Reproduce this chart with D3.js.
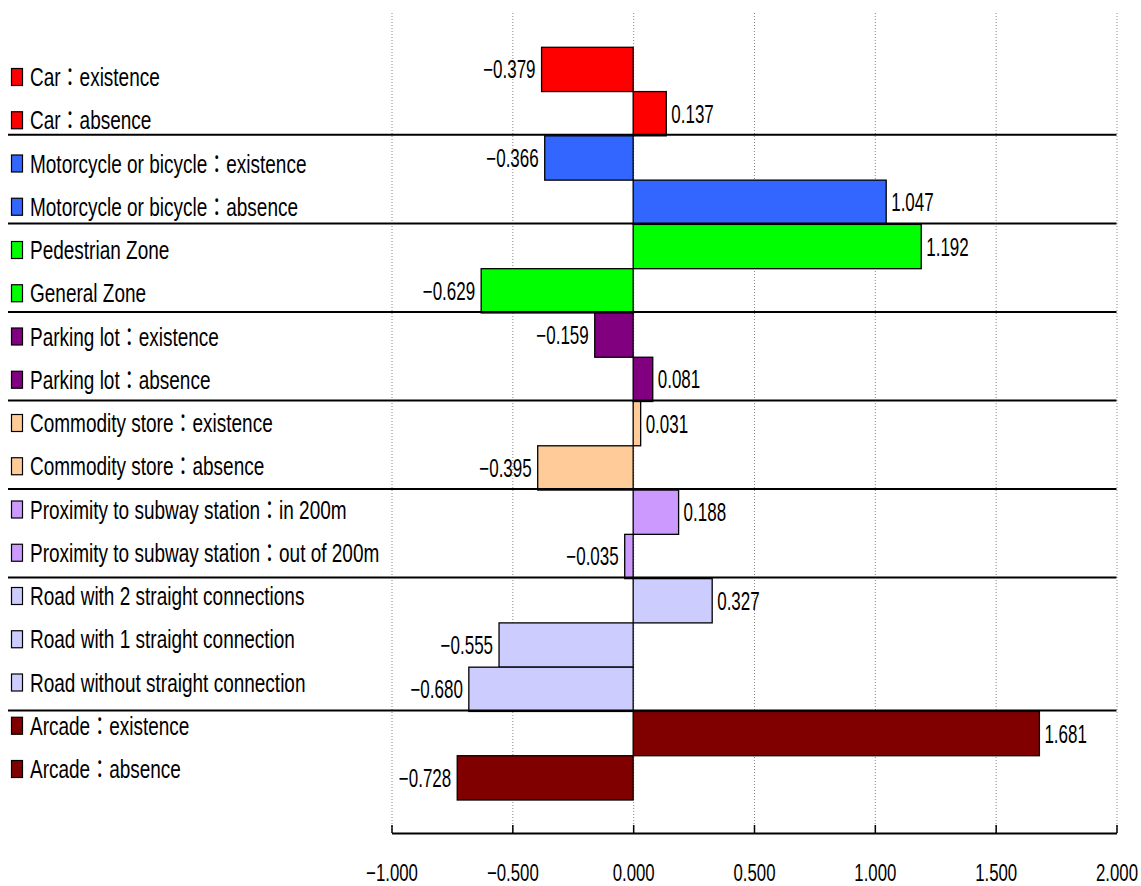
<!DOCTYPE html>
<html>
<head>
<meta charset="utf-8">
<script src="https://cdn.jsdelivr.net/npm/d3@7"></script>
<style>
  html, body { margin: 0; padding: 0; background: #fff; }
  svg { display: block; }
  .lbl { font-family: "Liberation Sans", Arial, "Noto Sans CJK JP", sans-serif; fill: #000; }
</style>
</head>
<body>
<svg id="chart" width="1141" height="886"></svg>
<script>
// Category scores by factor level
const categories = [
  "Car：existence",
  "Car：absence",
  "Motorcycle or bicycle：existence",
  "Motorcycle or bicycle：absence",
  "Pedestrian Zone",
  "General Zone",
  "Parking lot：existence",
  "Parking lot：absence",
  "Commodity store：existence",
  "Commodity store：absence",
  "Proximity to subway station：in 200m",
  "Proximity to subway station：out of 200m",
  "Road with 2 straight connections",
  "Road with 1 straight connection",
  "Road without straight connection",
  "Arcade：existence",
  "Arcade：absence"
];
const values = [
  -0.379, 0.137,
  -0.366, 1.047,
  1.192, -0.629,
  -0.159, 0.081,
  0.031, -0.395,
  0.188, -0.035,
  0.327, -0.555, -0.680,
  1.681, -0.728
];
// factor each category belongs to
const groupIndex = [0, 0, 1, 1, 2, 2, 3, 3, 4, 4, 5, 5, 6, 6, 6, 7, 7];
const groupColors = ["#FF0000", "#3366FF", "#00FF00", "#800080", "#FFCC99", "#CC99FF", "#CCCCFF", "#800000"];
const xTicks = [-1, -0.5, 0, 0.5, 1, 1.5, 2];

const svg = d3.select("#chart");
const fmt = d3.format(".3f");

const plotLeft = 391.5, plotRight = 1116.5;
const plotTop = 12, axisY = 833;
const barTop = 47.3, barBottom = 800;

// narrow-looking glyphs: horizontal squeeze of a regular sans
const numScale = 0.68, textScale = 0.76, fontSize = 25;

const x = d3.scaleLinear().domain([-1, 2]).range([plotLeft, plotRight]);
const y = d3.scaleBand().domain(d3.range(categories.length)).range([barTop, barBottom]).padding(0);

// dotted vertical gridlines
svg.append("g")
  .attr("transform", `translate(0,${axisY})`)
  .call(d3.axisBottom(x).tickValues(xTicks).tickSize(-(axisY - plotTop)).tickFormat(""))
  .call(g => g.select(".domain").remove())
  .call(g => g.selectAll(".tick line")
    .attr("stroke", "#888").attr("stroke-width", 1).attr("stroke-dasharray", "1,2"));

// bars
svg.append("g").selectAll("rect")
  .data(values)
  .join("rect")
  .attr("x", d => x(Math.min(0, d)))
  .attr("width", d => Math.abs(x(d) - x(0)))
  .attr("y", (d, i) => y(i))
  .attr("height", y.bandwidth())
  .attr("fill", (d, i) => groupColors[groupIndex[i]])
  .attr("stroke", "#000")
  .attr("stroke-width", 1.3);

// value labels
svg.append("g").selectAll("g")
  .data(values)
  .join("g")
  .attr("transform", (d, i) => {
    const tx = d < 0 ? x(d) - 6 : x(d) + 5;
    return `translate(${tx},${y(i) + y.bandwidth() / 2 + 9}) scale(${numScale},1)`;
  })
  .append("text")
  .attr("class", "lbl")
  .attr("font-size", fontSize)
  .attr("text-anchor", d => d < 0 ? "end" : "start")
  .text(d => fmt(d));

// legend (own vertical spacing)
const legendY = d3.scaleLinear().domain([0, categories.length - 1]).range([77, 769]);
const legend = svg.append("g").selectAll("g")
  .data(categories)
  .join("g")
  .attr("transform", (d, i) => `translate(0,${legendY(i)})`);
legend.append("rect")
  .attr("x", 11.5).attr("y", -8.5)
  .attr("width", 11).attr("height", 17)
  .attr("fill", (d, i) => groupColors[groupIndex[i]])
  .attr("stroke", "#000").attr("stroke-width", 1.2);
legend.append("g")
  .attr("transform", `translate(30,9) scale(${textScale},1)`)
  .append("text")
  .attr("class", "lbl")
  .attr("font-size", fontSize)
  .text(d => d);

// separators between factors
const groupEnds = d3.range(categories.length - 1).filter(i => groupIndex[i] !== groupIndex[i + 1]);
svg.append("g").selectAll("line")
  .data(groupEnds)
  .join("line")
  .attr("x1", 8).attr("x2", plotRight)
  .attr("y1", i => y(i) + y.bandwidth() - 1)
  .attr("y2", i => y(i) + y.bandwidth() - 1)
  .attr("stroke", "#000").attr("stroke-width", 2);

// x axis with upward ticks
svg.append("g")
  .attr("transform", `translate(0,${axisY})`)
  .call(d3.axisBottom(x).tickValues(xTicks).tickSize(-8).tickSizeOuter(0).tickFormat(fmt).tickPadding(0))
  .call(g => g.attr("font-family", null).attr("font-size", null))
  .call(g => g.select(".domain").attr("stroke", "#000").attr("stroke-width", 2))
  .call(g => g.selectAll(".tick line").attr("stroke", "#000").attr("stroke-width", 1.5))
  .call(g => g.selectAll(".tick text")
    .attr("class", "lbl")
    .attr("font-size", fontSize - 1)
    .attr("y", 48).attr("dy", 0)
    .attr("transform", `scale(${numScale + 0.02},1)`));
</script>
</body>
</html>
